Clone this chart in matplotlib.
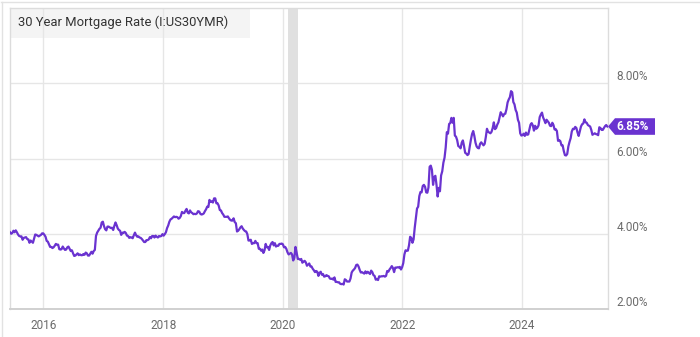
import matplotlib
matplotlib.use("Agg")
import matplotlib.pyplot as plt
import matplotlib.dates as mdates
import pandas as pd
import numpy as np
from matplotlib.patches import Polygon, Rectangle
from matplotlib.lines import Line2D

plt.rcParams['font.family'] = ['Roboto', 'DejaVu Sans']

# Weekly 30-year mortgage rate (%), one list per calendar year (Thursdays)
rates_2015 = [4.04, 4.00, 4.02,
              4.08, 4.04, 4.09, 4.04, 3.98,
              3.94, 3.93, 3.93, 3.84,
              3.89, 3.90, 3.91, 3.86,
              3.85, 3.76, 3.82, 3.79, 3.76,
              3.87, 3.98, 3.97, 3.95,
              3.93, 3.95, 3.97, 4.01, 4.01]
rates_2016 = [3.97, 3.92, 3.81, 3.79,
              3.72, 3.65, 3.65, 3.62,
              3.64, 3.68, 3.73, 3.71, 3.71,
              3.59, 3.58, 3.59, 3.66,
              3.61, 3.57, 3.58, 3.64,
              3.66, 3.60, 3.54, 3.56, 3.48,
              3.41, 3.42, 3.45, 3.48,
              3.43, 3.45, 3.43, 3.43,
              3.46, 3.44, 3.50, 3.48, 3.42,
              3.42, 3.47, 3.52, 3.47,
              3.54, 3.57, 3.94, 4.03,
              4.08, 4.13, 4.16, 4.30, 4.32]
rates_2017 = [4.20, 4.12, 4.09, 4.19,
              4.19, 4.17, 4.15, 4.16,
              4.10, 4.21, 4.30, 4.23, 4.14,
              4.10, 4.08, 3.97, 4.03,
              4.02, 4.05, 4.02, 3.95,
              3.94, 3.89, 3.91, 3.90, 3.88,
              3.96, 4.03, 3.96, 3.92,
              3.93, 3.90, 3.89, 3.86, 3.82,
              3.78, 3.78, 3.83, 3.83,
              3.85, 3.91, 3.88, 3.94,
              3.94, 3.90, 3.95, 3.92, 3.90,
              3.94, 3.93, 3.94, 3.99]
rates_2018 = [3.95, 3.99, 4.04, 4.15,
              4.22, 4.32, 4.38, 4.40,
              4.43, 4.46, 4.44, 4.45, 4.44,
              4.40, 4.42, 4.47, 4.58,
              4.55, 4.55, 4.61, 4.66, 4.56,
              4.54, 4.62, 4.57, 4.55,
              4.52, 4.53, 4.52, 4.54,
              4.60, 4.59, 4.53, 4.51, 4.52,
              4.54, 4.60, 4.65, 4.72,
              4.71, 4.90, 4.85, 4.86,
              4.83, 4.94, 4.94, 4.81, 4.81,
              4.75, 4.63, 4.62, 4.55]
rates_2019 = [4.51, 4.45, 4.45, 4.45, 4.46,
              4.41, 4.37, 4.35, 4.35,
              4.41, 4.31, 4.28, 4.06,
              4.08, 4.12, 4.17, 4.20,
              4.14, 4.10, 4.07, 4.06, 3.99,
              3.82, 3.82, 3.84, 3.73,
              3.75, 3.75, 3.81, 3.75,
              3.75, 3.60, 3.60, 3.55, 3.58,
              3.49, 3.56, 3.73, 3.64,
              3.65, 3.57, 3.69, 3.75, 3.78,
              3.69, 3.75, 3.66, 3.68,
              3.68, 3.73, 3.73, 3.74]
rates_2020 = [3.72, 3.64, 3.65, 3.60, 3.51,
              3.45, 3.47, 3.49, 3.45,
              3.29, 3.36, 3.65, 3.50,
              3.33, 3.33, 3.31, 3.33, 3.23,
              3.26, 3.28, 3.24, 3.15,
              3.18, 3.21, 3.13, 3.13,
              3.07, 3.03, 2.98, 3.01, 2.99,
              2.88, 2.96, 2.99, 2.91,
              2.93, 2.86, 2.87, 2.90,
              2.88, 2.87, 2.81, 2.80, 2.81,
              2.78, 2.84, 2.72, 2.72,
              2.71, 2.71, 2.67, 2.66, 2.67]
rates_2021 = [2.65, 2.79, 2.77, 2.73,
              2.73, 2.73, 2.81, 2.97,
              3.02, 3.05, 3.09, 3.17,
              3.18, 3.13, 3.04, 2.97, 2.98,
              2.96, 2.94, 3.00, 2.95,
              2.99, 2.96, 2.93, 3.02,
              2.98, 2.90, 2.88, 2.78, 2.80,
              2.77, 2.87, 2.86, 2.87,
              2.87, 2.88, 2.86, 2.88, 3.01,
              2.99, 3.05, 3.09, 3.14,
              3.09, 2.98, 3.10, 3.10,
              3.11, 3.10, 3.12, 3.05, 3.11]
rates_2022 = [3.22, 3.45, 3.56, 3.55,
              3.55, 3.69, 3.92, 3.89,
              3.76, 3.85, 4.16, 4.42, 4.67,
              4.72, 5.00, 5.11, 5.10,
              5.27, 5.30, 5.25, 5.10,
              5.09, 5.23, 5.78, 5.81, 5.70,
              5.30, 5.51, 5.54, 5.30,
              4.99, 5.22, 5.13, 5.55,
              5.66, 5.89, 6.02, 6.29, 6.70,
              6.66, 6.92, 6.94, 7.08,
              6.95, 7.08, 6.61, 6.58,
              6.49, 6.33, 6.31, 6.27, 6.42]
rates_2023 = [6.48, 6.33, 6.15, 6.13,
              6.09, 6.12, 6.32, 6.50,
              6.65, 6.73, 6.60, 6.42, 6.32,
              6.28, 6.27, 6.39, 6.43,
              6.39, 6.35, 6.39, 6.57,
              6.79, 6.71, 6.69, 6.67, 6.71,
              6.81, 6.96, 6.78, 6.81,
              6.90, 6.96, 7.09, 7.23, 7.18,
              7.12, 7.18, 7.19, 7.31,
              7.49, 7.57, 7.63, 7.79,
              7.76, 7.50, 7.44, 7.29, 7.22,
              7.03, 6.95, 6.67, 6.61]
rates_2024 = [6.62, 6.66, 6.60, 6.69,
              6.63, 6.64, 6.77, 6.90, 6.94,
              6.88, 6.74, 6.87, 6.79,
              6.82, 6.88, 7.10, 7.17,
              7.22, 7.09, 7.02, 6.94, 7.03,
              6.99, 6.95, 6.87, 6.86,
              6.95, 6.89, 6.77, 6.78,
              6.73, 6.47, 6.49, 6.46, 6.35,
              6.35, 6.20, 6.09, 6.08,
              6.12, 6.32, 6.44, 6.54, 6.72,
              6.79, 6.78, 6.84, 6.81,
              6.69, 6.60, 6.72, 6.85]
rates_2025 = [6.91, 6.93, 7.04, 6.96, 6.95,
              6.89, 6.87, 6.85, 6.76,
              6.63, 6.65, 6.67, 6.65,
              6.64, 6.62, 6.83, 6.81,
              6.76, 6.76, 6.81, 6.86, 6.89,
              6.85]

first_thursdays = ['2015-06-11', '2016-01-07', '2017-01-05', '2018-01-04',
                   '2019-01-03', '2020-01-02', '2021-01-07', '2022-01-06',
                   '2023-01-05', '2024-01-04', '2025-01-02']
yearly = [rates_2015, rates_2016, rates_2017, rates_2018, rates_2019,
          rates_2020, rates_2021, rates_2022, rates_2023, rates_2024, rates_2025]

recession = ('2020-02-05', '2020-04-03')
x_ticks = ['2016-01-01', '2018-01-01', '2020-01-01', '2022-01-01', '2024-01-01']
x_labels = ['2016', '2018', '2020', '2022', '2024']
y_ticks = [2, 4, 6, 8]
y_labels = ['2.00%', '4.00%', '6.00%', '8.00%']
title = '30 Year Mortgage Rate (I:US30YMR)'

dates = pd.DatetimeIndex(np.concatenate([
    pd.date_range(s, periods=len(v), freq='7D').values
    for s, v in zip(first_thursdays, yearly)]))
values = np.concatenate([np.array(v, float) for v in yearly])

W, H = 700, 337
fig = plt.figure(figsize=(W / 100, H / 100), dpi=100, facecolor='white')
L, R, T, B = 10, 608, 8, 309
ax = fig.add_axes([L / W, 1 - B / H, (R - L) / W, (B - T) / H])

purple = '#6a33d0'
grid_c = '#e6e6e6'

ax.plot(dates, values, color=purple, lw=1.6, solid_joinstyle='round', zorder=3)
ax.axvspan(pd.Timestamp(recession[0]), pd.Timestamp(recession[1]),
           color='#e0e0e0', lw=0, zorder=0.6)

ax.set_xlim(pd.Timestamp('2015-06-11'), pd.Timestamp('2025-06-09'))
ax.set_ylim(2, 10)

ax.set_xticks([pd.Timestamp(t) for t in x_ticks])
ax.set_xticklabels(x_labels)
ax.set_yticks(y_ticks)
ax.set_yticklabels(y_labels)
ax.yaxis.tick_right()
ax.tick_params(axis='both', length=0, labelsize=8.5, labelcolor='#6b6b6b')
ax.tick_params(axis='x', pad=7)
ax.tick_params(axis='y', pad=6)
for lbl in ax.get_yticklabels():
    lbl.set_verticalalignment('bottom')

ax.set_axisbelow(True)
ax.grid(True, color=grid_c, lw=1)
for side, sp in ax.spines.items():
    sp.set_color('#dcdcdc')
    sp.set_linewidth(1)
ax.spines['bottom'].set_color('#d0d0d0')
ax.spines['bottom'].set_linewidth(1.4)

# title box
ax.add_patch(Rectangle((0, 1 - 30 / (B - T)), 240 / (R - L), 30 / (B - T),
                       transform=ax.transAxes, facecolor='#f4f4f4',
                       edgecolor='none', zorder=0.1))
fig.text(18 / W, 1 - 22 / H, title, fontsize=9.4, color='#333333',
         va='center', ha='left')

# outer frame lines
fig.add_artist(Line2D([1 / W, 1], [1 - 1.5 / H, 1 - 1.5 / H], color='#e2e2e2', lw=1))
fig.add_artist(Line2D([1.5 / W, 1.5 / W], [0, 1 - 1.5 / H], color='#e2e2e2', lw=1))

# last value badge
last_val = values[-1]
fig.canvas.draw()
_, ypix = ax.transData.transform((mdates.date2num(dates[-1]), last_val))
tip_x = R
h = 8.3
x0, x1 = R + 7, R + 47
pts_pix = [(tip_x, ypix), (x0, ypix + h), (x1, ypix + h), (x1, ypix - h), (x0, ypix - h)]
pts_fig = [(px / W, py / fig.bbox.height) for px, py in pts_pix]
fig.add_artist(Polygon(pts_fig, closed=True, transform=fig.transFigure,
                       facecolor=purple, edgecolor='none'))
fig.text((x0 + x1) / 2 / W - 2 / W, ypix / fig.bbox.height, f'{last_val:.2f}%',
         color='white', fontsize=8.5, fontweight='bold', ha='center', va='center')

fig.savefig('out.png', dpi=100, facecolor='white')
